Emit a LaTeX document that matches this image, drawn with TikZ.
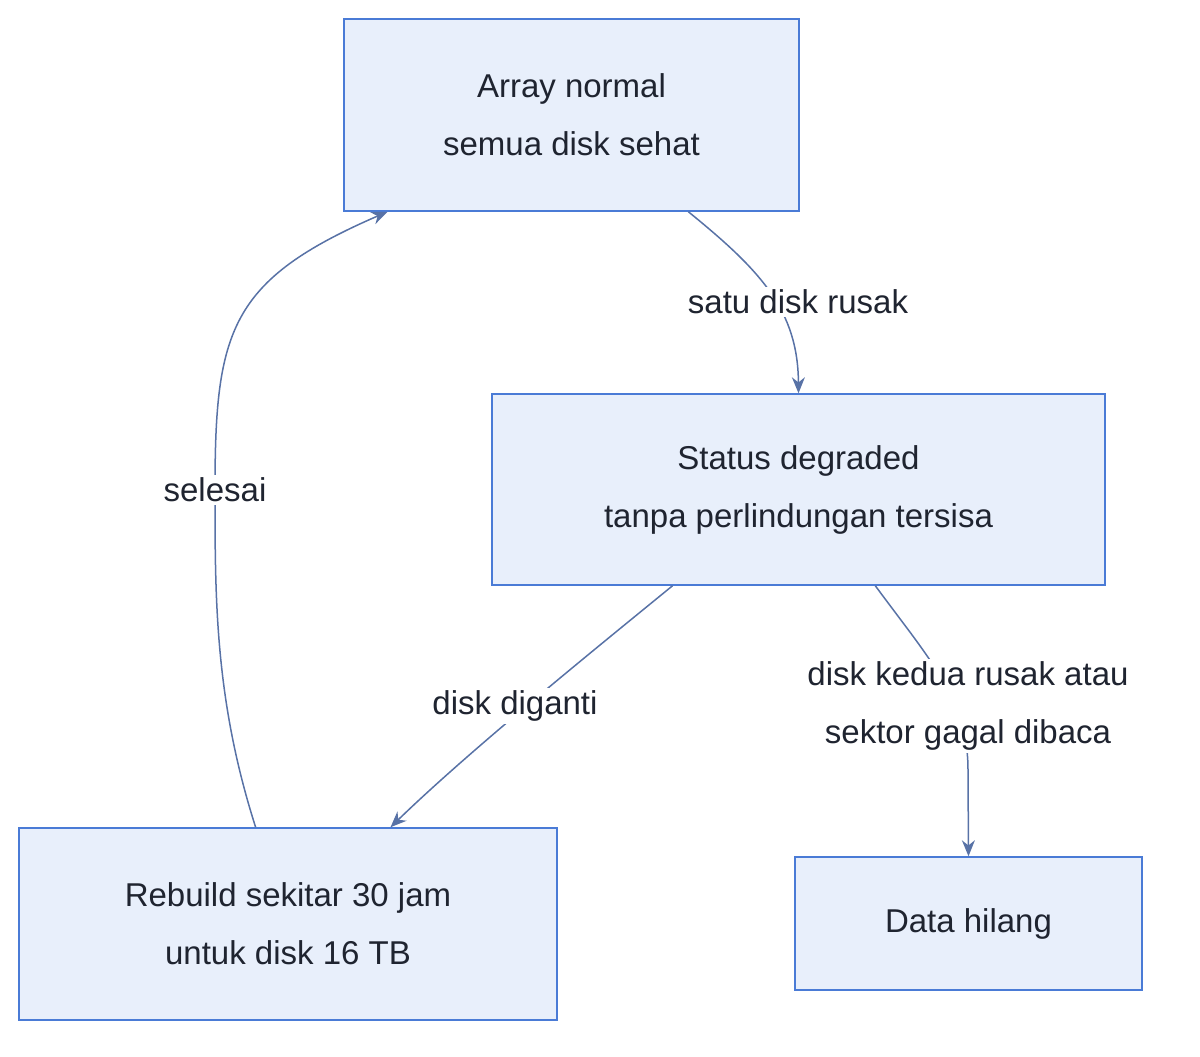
\documentclass[tikz,border=0pt]{standalone}
\usepackage{fontspec}
\setmainfont{Liberation Sans}
\usetikzlibrary{arrows.meta,calc}
\definecolor{boxfill}{HTML}{E8EFFB}
\definecolor{boxline}{HTML}{4A7BD6}
\definecolor{edge}{HTML}{5872A6}
\definecolor{txt}{HTML}{1F2430}
\begin{document}
\begin{tikzpicture}[x=1pt,y=-1pt,
  box/.style={draw=boxline,fill=boxfill,line width=1.5pt,inner sep=0pt,align=center,text=txt,font=\fontsize{33}{58}\selectfont},
  lbl/.style={fill=white,inner sep=3pt,align=center,text=txt,font=\fontsize{33}{58}\selectfont},
  arr/.style={draw=edge,line width=1.5pt,-{Stealth[length=16pt,width=13pt]}}]
\useasboundingbox (0,0) rectangle (1200,1057);
\node[box,minimum width=455pt,minimum height=192pt] (A) at (571.5,115) {Array normal\\semua disk sehat};
\node[box,minimum width=613pt,minimum height=191pt] (B) at (798.5,489.5) {Status degraded\\tanpa perlindungan tersisa};
\node[box,minimum width=538pt,minimum height=192pt] (C) at (288,924) {Rebuild sekitar 30 jam\\untuk disk 16 TB};
\node[box,minimum width=347pt,minimum height=133pt] (D) at (968.5,923.5) {Data hilang};
\coordinate (a1) at ($(A.south west)!0.756!(A.south east)$);
\coordinate (a2) at ($(A.south west)!0.097!(A.south east)$);
\coordinate (b1) at ($(B.south west)!0.295!(B.south east)$);
\coordinate (b2) at ($(B.south west)!0.625!(B.south east)$);
\coordinate (c1) at ($(C.north west)!0.69!(C.north east)$);
\coordinate (c2) at ($(C.north west)!0.44!(C.north east)$);
\draw[arr] (a1) .. controls (760,270) and (798,310) .. (B.north);
\draw[arr] (b1) .. controls (600,645) and (470,750) .. (c1);
\draw[arr] (b2) .. controls (930,660) and (968,700) .. (968,770) -- (D.north);
\draw[arr] (c2) .. controls (215,700) and (215,600) .. (215,490) .. controls (215,330) and (230,280) .. (a2);
\node[lbl] (l1) at (798,302) {satu disk rusak};
\node[lbl] (l2) at (515,706) {disk diganti};
\node[lbl] (l3) at (968,706) {disk kedua rusak atau\\sektor gagal dibaca};
\node[lbl] (l4) at (215,490) {selesai};
\end{tikzpicture}
\end{document}
